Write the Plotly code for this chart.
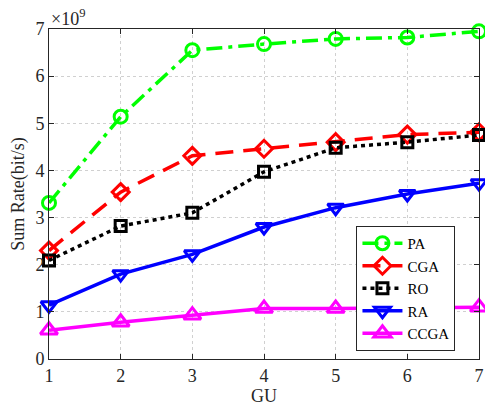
import plotly.graph_objects as go

gu = [1, 2, 3, 4, 5, 6, 7]
pa = [3.31, 5.14, 6.55, 6.68, 6.79, 6.82, 6.95]
cga = [2.30, 3.54, 4.31, 4.46, 4.60, 4.76, 4.81]
ro = [2.09, 2.82, 3.10, 3.97, 4.48, 4.60, 4.75]
ra = [1.14, 1.80, 2.22, 2.80, 3.21, 3.50, 3.73]
ccga = [0.61, 0.78, 0.93, 1.07, 1.07, 1.09, 1.10]
names = ["PA", "CGA", "RO", "RA", "CCGA"]
yticks = [0, 1, 2, 3, 4, 5, 6, 7]

series = [pa, cga, ro, ra, ccga]
colors = ["#00FF00", "#FF0000", "#000000", "#0000FF", "#FF00FF"]
dashes = ["16px,6px,4px,6px", "18px,10px", "4px,4px", "solid", "solid"]
symbols = ["circle-open", "diamond-open", "square-open", "triangle-down-open", "triangle-up-open"]
sizes = [13, 13, 11, 14, 15]

font = "Liberation Serif"
fig = go.Figure()
for name, ys, c, d, s, ms in zip(names, series, colors, dashes, symbols, sizes):
    fig.add_trace(go.Scatter(
        x=gu, y=ys, name=name, mode="lines+markers", cliponaxis=False,
        line=dict(color=c, width=3.5, dash=d),
        marker=dict(symbol=s, size=ms, color=c, line=dict(color=c, width=3)),
    ))

axis_common = dict(
    showline=True, linecolor="#262626", linewidth=1, mirror="ticks",
    ticks="inside", ticklen=5, tickcolor="#262626",
    showgrid=True, gridcolor="#d0d0d0", griddash="dot", gridwidth=1,
    zeroline=False, tickfont=dict(family=font, size=18, color="#262626"),
    ticklabeloverflow="allow",
)
fig.update_xaxes(range=[1, 7], tickvals=gu, title=dict(text="GU", font=dict(family=font, size=18, color="#262626"), standoff=4), **axis_common)
fig.update_yaxes(range=[0, 7], tickvals=yticks, title=dict(text="Sum Rate(bit/s)", font=dict(family=font, size=18, color="#262626"), standoff=6), **axis_common)

fig.add_annotation(xref="paper", yref="paper", x=0.0, y=1.0, xanchor="left", yanchor="bottom",
                   text="×10<sup>9</sup>", showarrow=False,
                   font=dict(family=font, size=18, color="#262626"), yshift=-2)

fig.update_layout(
    width=485, height=420,
    margin=dict(l=49, r=1, t=29, b=61),
    plot_bgcolor="white", paper_bgcolor="white",
    font=dict(family=font, color="#262626"),
    legend=dict(x=0.715, y=0.403, xanchor="left", yanchor="top",
                bgcolor="white", bordercolor="#262626", borderwidth=1,
                font=dict(family=font, size=15, color="#000000"),
                itemwidth=40, tracegroupgap=0),
    showlegend=True,
)
fig.write_html("out.html", config={"displayModeBar": False},
               post_script="document.body.style.margin='0';document.body.style.overflow='hidden';")
